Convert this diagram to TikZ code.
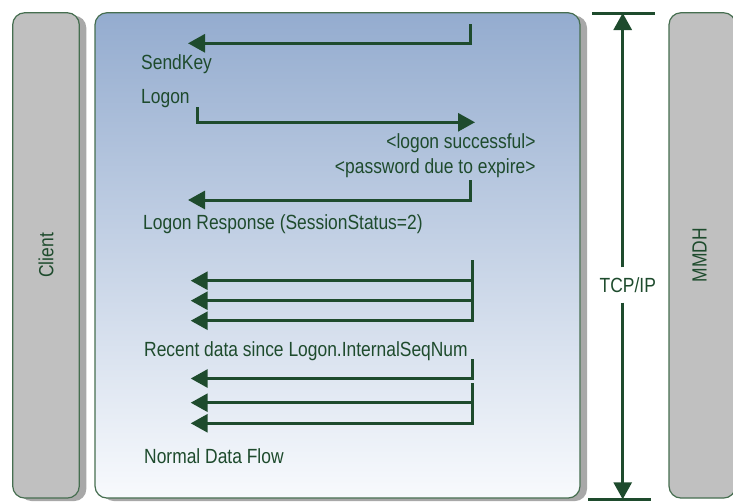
\documentclass[tikz,border=0pt]{standalone}
\usepackage{fontspec}
\setmainfont{Liberation Sans}[FakeStretch=0.85]
\usetikzlibrary{arrows.meta, shadows}
\definecolor{verde}{RGB}{30,75,45}
\definecolor{borda}{RGB}{70,110,80}
\definecolor{cinza}{RGB}{192,192,192}
\definecolor{azultopo}{RGB}{148,172,207}
\definecolor{azulbase}{RGB}{248,250,253}
\tikzstyle{painel} = [rectangle, rounded corners=12pt, minimum width=66.6pt, minimum height=485.3pt, inner sep=0pt, draw=borda, line width=1.2pt, fill=cinza]
\tikzstyle{sombra} = [drop shadow={shadow xshift=7pt, shadow yshift=-3pt, fill=black!34, opacity=1}]
\tikzstyle{rotulo} = [text=verde, inner sep=0pt, font=\fontsize{20.5}{24}\selectfont]
\tikzstyle{arrow} = [line width=3pt, color=verde, -{Triangle[length=17pt, width=18pt]}]
\tikzstyle{barra} = [line width=3pt, color=verde]

\begin{document}
\begin{tikzpicture}[x=1pt, y=-1pt]
\useasboundingbox (0,0) rectangle (733,501);
\clip (0,0) rectangle (733,501);

% Paineis
\node (client) [painel, sombra] at (46,255.4) {};
\node (sessao) [painel, sombra, minimum width=485pt, top color=azultopo, bottom color=azulbase] at (337.5,255.4) {};
\node (mmdh)   [painel] at (702.3,255.4) {};
\node (clienttxt) [rotulo, rotate=90] at (client) {Client};
\node (mmdhtxt)   [rotulo, rotate=90] at ([xshift=-2.8pt]mmdh.center) {MMDH};

% Textos
\node (sendkey)  [rotulo, anchor=base west] at (141,69.3) {SendKey};
\node (logon)    [rotulo, anchor=base west] at (141,103.3) {Logon};
\node (success)  [rotulo, anchor=base east] at (535.7,148.3) {<logon successful>};
\node (expire)   [rotulo, anchor=base east] at (535.7,173.3) {<password due to expire>};
\node (response) [rotulo, anchor=base west] at (143,229.3) {Logon Response (SessionStatus=2)};
\node (recent)   [rotulo, anchor=base west] at (144,356.7) {Recent data since Logon.InternalSeqNum};
\node (normal)   [rotulo, anchor=base west] at (144,463.3) {Normal Data Flow};

% Pontas das setas
\coordinate (sk)    at (470,24);
\coordinate (skfim) at (188,43.3);
\coordinate (lg)    at (197.3,107.3);
\coordinate (lgfim) at (475,122.3);
\coordinate (rs)    at (470,180);
\coordinate (rsfim) at (188,200);
\coordinate (rc)    at (472.7,260);
\coordinate (rc1)   at (190.7,280.7);
\coordinate (rc2)   at (190.7,300.7);
\coordinate (rc3)   at (190.7,320.7);
\coordinate (nf)    at (472.7,359.3);
\coordinate (nf1)   at (190.7,378.5);
\coordinate (nfb)   at (472.7,383);
\coordinate (nf2)   at (190.7,402.7);
\coordinate (nf3)   at (190.7,423.3);

% Setas do logon
\draw [arrow] (sk) |- (skfim);
\draw [arrow] (lg) |- (lgfim);
\draw [arrow] (rs) |- (rsfim);

% Dados recentes
\draw [arrow] (rc) |- (rc3);
\draw [arrow] (rc1 -| rc) -- (rc1);
\draw [arrow] (rc2 -| rc) -- (rc2);

% Fluxo normal
\draw [arrow] (nf) |- (nf1);
\draw [arrow] (nfb) |- (nf3);
\draw [arrow] (nf2 -| nfb) -- (nf2);

% TCP/IP
\coordinate (tcptop) at (622.7,13);
\coordinate (tcpbot) at (622.7,499.3);
\node (tcp) [rotulo, inner ysep=10pt, anchor=base] at (627.8,292.3) {TCP/IP};
\draw [barra] ([xshift=-30.7pt]tcptop) -- ([xshift=32pt]tcptop);
\draw [barra] ([xshift=-34.7pt]tcpbot) -- ([xshift=28.3pt]tcpbot);
\draw [arrow] (tcp.north -| tcptop) -- (tcptop);
\draw [arrow] (tcp.south -| tcpbot) -- (tcpbot);

\end{tikzpicture}
\end{document}
